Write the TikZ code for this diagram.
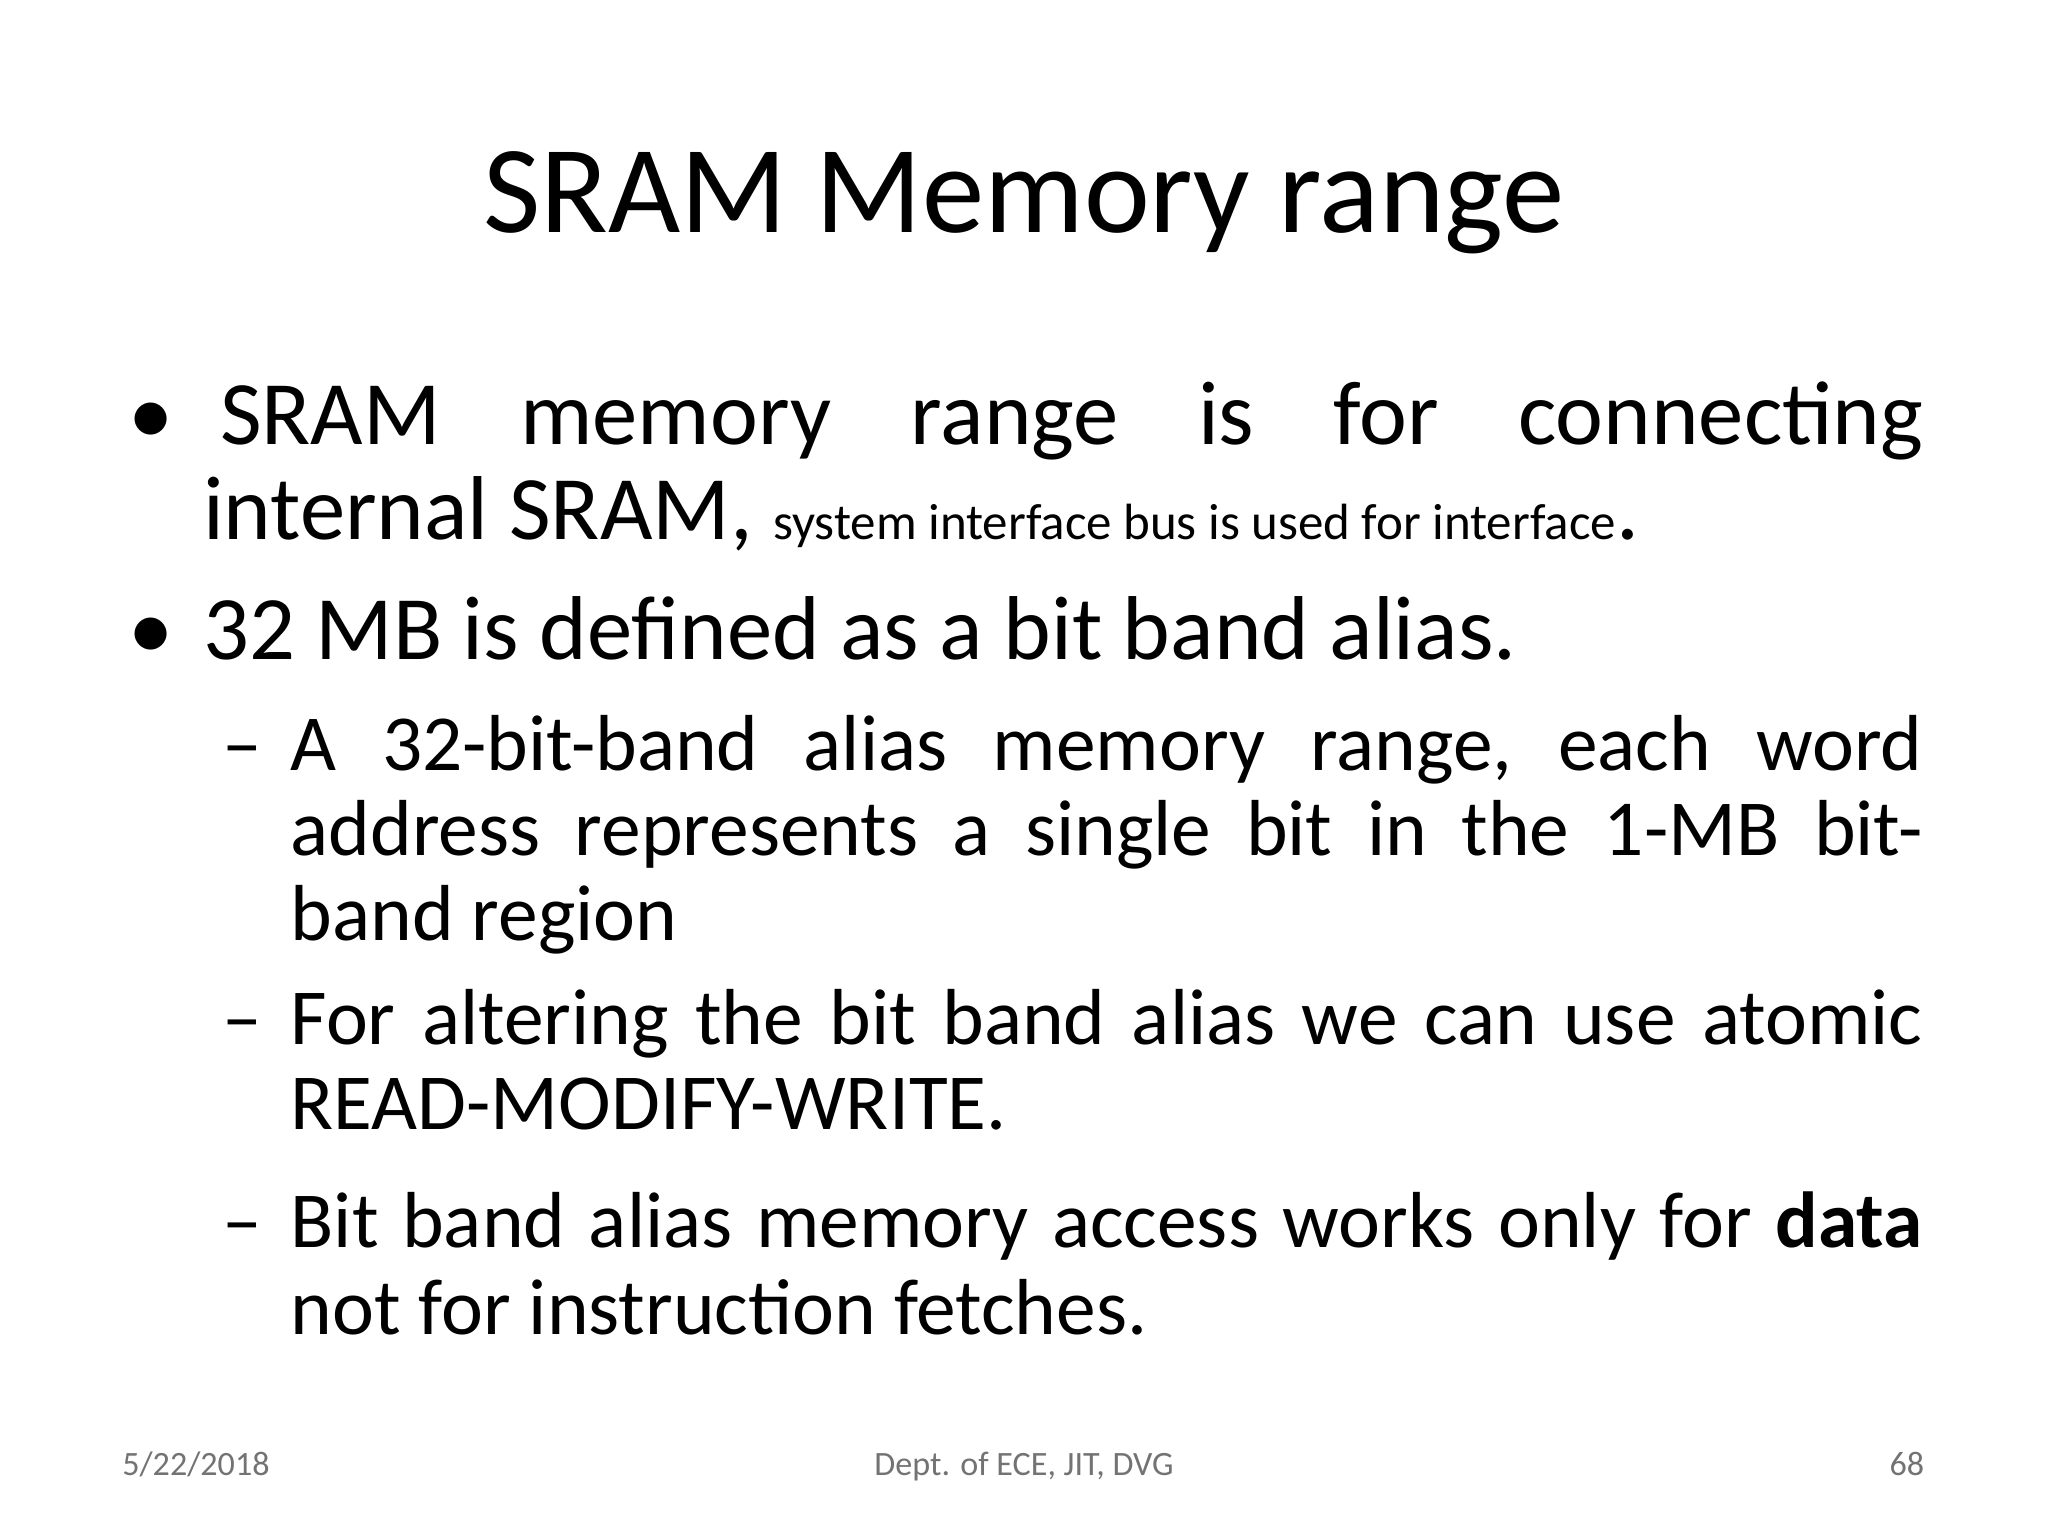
\documentclass[tikz,border=0pt]{standalone}
\usepackage{fontspec}
\setmainfont{Carlito}
\begin{document}
\begin{tikzpicture}[x=0.01306cm,y=-0.01306cm,
 txt/.style={anchor=base west,inner sep=0pt,font=\fontsize{25.8}{30}\selectfont},
 sub/.style={anchor=base west,inner sep=0pt,font=\fontsize{22.6}{27}\selectfont},
 foot/.style={inner sep=0pt,anchor=base,font=\fontsize{9.7}{11}\selectfont,text=black!55}]
\useasboundingbox (0,0) rectangle (1568,1176);
\node[anchor=base,inner sep=0pt,font=\fontsize{35.5}{40}\selectfont] (title) at (784,178) {SRAM Memory range};
\node[txt] (b1) at (98,340) {\textbullet};
\node[txt] (l1) at (168,340) {\hbox to 1304\pgflinewidth{}};
\node[txt] (l1) at (168,340) {\hbox to 17.03cm{SRAM\hfill memory\hfill range\hfill is\hfill for\hfill connecting}};
\node[txt] (l2) at (155,413) {internal SRAM, {\fontsize{14.5}{17}\selectfont system interface bus is used for interface}.};
\node[txt] (b2) at (98,505) {\textbullet};
\node[txt] (l3) at (155,505) {32 MB is defined as a bit band alias.};
\node[sub] (d1) at (170,590) {–};
\node[sub] (s1) at (222,590) {\hbox to 16.32cm{A\hfill 32-bit-band\hfill alias\hfill memory\hfill range,\hfill each\hfill word}};
\node[sub] (s2) at (222,655) {\hbox to 16.32cm{address\hfill represents\hfill a\hfill single\hfill bit\hfill in\hfill the\hfill 1-MB\hfill bit-}};
\node[sub] (s3) at (222,720) {band region};
\node[sub] (d2) at (170,800) {–};
\node[sub] (s4) at (222,800) {\hbox to 16.32cm{For\hfill altering\hfill the\hfill bit\hfill band\hfill alias\hfill we\hfill can\hfill use\hfill atomic}};
\node[sub] (s5) at (222,865) {READ-MODIFY-WRITE.};
\node[sub] (d3) at (170,955) {–};
\node[sub] (s6) at (222,955) {\hbox to 16.32cm{Bit\hfill band\hfill alias\hfill memory\hfill access\hfill works\hfill only\hfill for\hfill \textbf{data}}};
\node[sub] (s7) at (222,1022) {not for instruction fetches.};
\node[foot] (f1) at (150,1130) {5/22/2018};
\node[foot] (f2) at (784,1130) {Dept. of ECE, JIT, DVG};
\node[foot] (f3) at (1460,1130) {68};
\end{tikzpicture}
\end{document}
